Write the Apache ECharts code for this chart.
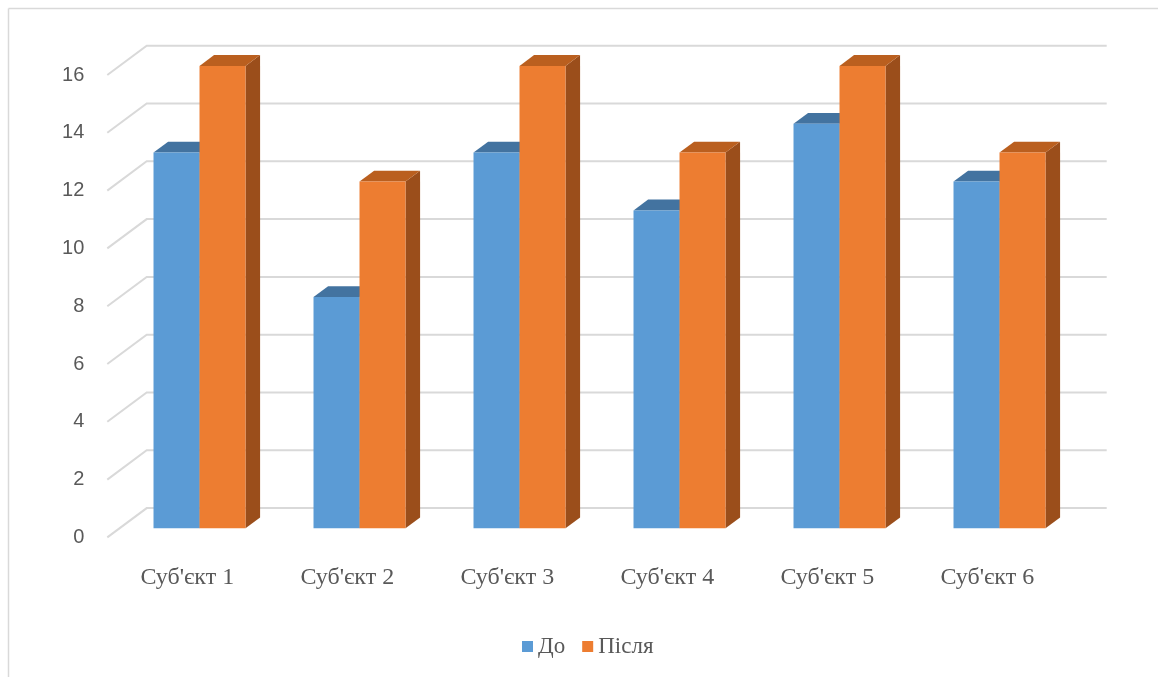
<!DOCTYPE html>
<html>
<head>
<meta charset="utf-8">
<script src="https://cdn.jsdelivr.net/npm/echarts@6/dist/echarts.min.js"></script>
<style>
  html, body { margin: 0; padding: 0; background: #fff; }
  #chart { width: 1158px; height: 677px; }
</style>
</head>
<body>
<div id="chart"></div>
<script>
// categories and values
var categories = ["Суб'єкт 1", "Суб'єкт 2", "Суб'єкт 3", "Суб'єкт 4", "Суб'єкт 5", "Суб'єкт 6"];
var before = [13, 8, 13, 11, 14, 12];   // До
var after = [16, 12, 16, 13, 16, 13];   // Після
var yTicks = [0, 2, 4, 6, 8, 10, 12, 14, 16];

// perspective depth vector (front plane -> back wall)
var DX = 39.4, DY = -29.3;
var BAR_FRONT = 0.31, BAR_DEPTH = 0.37;

var colors = {
  before: { front: '#5B9BD5', top: '#4373A0', side: '#3E6A94' },
  after: { front: '#ED7D31', top: '#BA5F1F', side: '#9B4E1B' }
};

var chart = echarts.init(document.getElementById('chart'));

function toPairs(arr) {
  return arr.map(function (v, i) { return [i, v]; });
}

// 3d bar renderer
function barRenderer(side, c) {
  return function (params, api) {
    var idx = api.value(0), val = api.value(1);
    var top = api.coord([idx, val]);
    var base = api.coord([idx, 0]);
    var band = api.size([1, 0])[0];
    var bw = band * 0.2875;
    var ox = BAR_FRONT * DX, oy = BAR_FRONT * DY;
    var dx = BAR_DEPTH * DX, dy = BAR_DEPTH * DY;
    var x0 = top[0] + ox + (side === 0 ? -bw : 0);
    var x1 = x0 + bw;
    var yT = top[1] + oy, yB = base[1] + oy;
    return {
      type: 'group',
      children: [
        {
          type: 'polygon',
          shape: { points: [[x1, yT], [x1 + dx, yT + dy], [x1 + dx, yB + dy], [x1, yB]] },
          style: { fill: c.side }
        },
        {
          type: 'polygon',
          shape: { points: [[x0, yT], [x1, yT], [x1 + dx, yT + dy], [x0 + dx, yT + dy]] },
          style: { fill: c.top }
        },
        {
          type: 'rect',
          shape: { x: x0, y: yT, width: bw, height: yB - yT },
          style: { fill: c.front }
        }
      ]
    };
  };
}

var option = {
  backgroundColor: '#fff',
  animation: false,
  graphic: [
    { type: 'line', shape: { x1: 8.5, y1: 8.5, x2: 1158, y2: 8.5 }, style: { stroke: '#D9D9D9', lineWidth: 1.5 } },
    { type: 'line', shape: { x1: 8.5, y1: 8.5, x2: 8.5, y2: 677 }, style: { stroke: '#D9D9D9', lineWidth: 1.5 } }
  ],
  grid: { left: 107.3, right: 90.7, top: 75, bottom: 139.6 },
  legend: {
    data: ['До', 'Після'],
    top: 630,
    left: 517,
    itemWidth: 11,
    itemHeight: 11,
    itemGap: 17,
    icon: 'rect',
    textStyle: { fontFamily: 'Liberation Serif', fontSize: 23, color: '#595959' }
  },
  xAxis: {
    type: 'category',
    data: categories,
    axisLine: { show: false },
    axisTick: { show: false },
    axisLabel: { margin: 28, fontFamily: 'Liberation Serif', fontSize: 24, color: '#595959' }
  },
  yAxis: {
    type: 'value',
    min: 0,
    max: 16,
    interval: 2,
    splitLine: { show: false },
    axisLine: { show: false },
    axisTick: { show: false },
    axisLabel: { margin: 23, fontFamily: 'Liberation Sans', fontSize: 20, color: '#595959' }
  },
  series: [
    {
      name: 'grid3d',
      type: 'custom',
      silent: true,
      z: 1,
      data: yTicks.map(function (v) { return [0, v]; }),
      renderItem: function (params, api) {
        var cs = params.coordSys;
        var p = api.coord([0, api.value(1)]);
        var y = p[1];
        return {
          type: 'polyline',
          shape: { points: [[cs.x, y], [cs.x + DX, y + DY], [cs.x + cs.width + DX, y + DY]] },
          style: { stroke: '#D9D9D9', lineWidth: 2, fill: null }
        };
      }
    },
    {
      name: 'До',
      type: 'custom',
      z: 2,
      itemStyle: { color: colors.before.front },
      data: toPairs(before),
      encode: { x: 0, y: 1 },
      renderItem: barRenderer(0, colors.before)
    },
    {
      name: 'Після',
      type: 'custom',
      z: 3,
      itemStyle: { color: colors.after.front },
      data: toPairs(after),
      encode: { x: 0, y: 1 },
      renderItem: barRenderer(1, colors.after)
    }
  ]
};

chart.setOption(option);
</script>
</body>
</html>
